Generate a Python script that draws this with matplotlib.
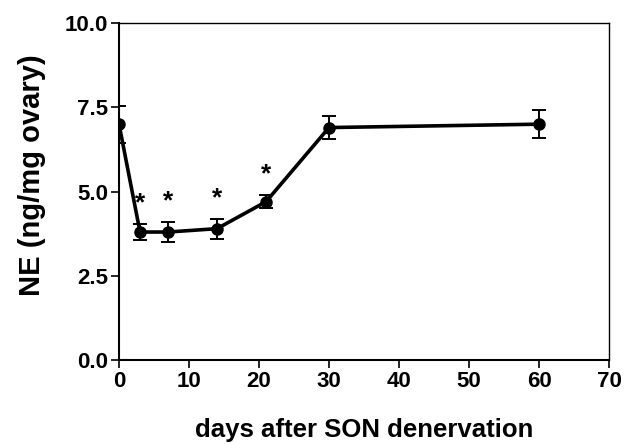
import matplotlib

matplotlib.use("Agg")
import matplotlib.pyplot as plt

days = [0, 3, 7, 14, 21, 30, 60]
ne_mean = [7.0, 3.8, 3.8, 3.9, 4.7, 6.9, 7.0]
ne_sem = [0.55, 0.25, 0.3, 0.3, 0.2, 0.35, 0.42]
significant = [False, True, True, True, True, False, False]

plt.rcParams["font.family"] = ["Liberation Sans", "DejaVu Sans"]
plt.rcParams["font.weight"] = "bold"

fig = plt.figure(figsize=(6.42, 4.44), dpi=100)
ax = fig.add_axes([0.1854, 0.189, 0.7632, 0.759])

ax.errorbar(days, ne_mean, yerr=ne_sem, color="black", lw=2.6, marker="o",
            markersize=8, elinewidth=1.4, capsize=5, capthick=1.4)

for d, m, s, sig in zip(days, ne_mean, ne_sem, significant):
    if sig:
        ax.text(d, m + s + 0.25, "*", ha="center", va="bottom",
                fontsize=19, fontweight="bold")

ax.set_xlim(0, 70)
ax.set_ylim(0, 10)
ax.set_xticks(range(0, 71, 10))
ax.set_yticks([0, 2.5, 5.0, 7.5, 10.0])
ax.set_yticklabels(["0.0", "2.5", "5.0", "7.5", "10.0"])
ax.tick_params(labelsize=16, width=1.2, length=6, pad=2)
for lbl in ax.get_xticklabels() + ax.get_yticklabels():
    lbl.set_fontweight("bold")

for side in ["left", "bottom"]:
    ax.spines[side].set_linewidth(1.5)
for side in ["top", "right"]:
    ax.spines[side].set_linewidth(1.0)

ax.set_xlabel("days after SON denervation", fontsize=18.5, fontweight="bold", labelpad=18.5)
ax.set_ylabel("NE (ng/mg ovary)", fontsize=21, fontweight="bold", labelpad=13, y=0.55)

fig.savefig("out.png", dpi=100)
